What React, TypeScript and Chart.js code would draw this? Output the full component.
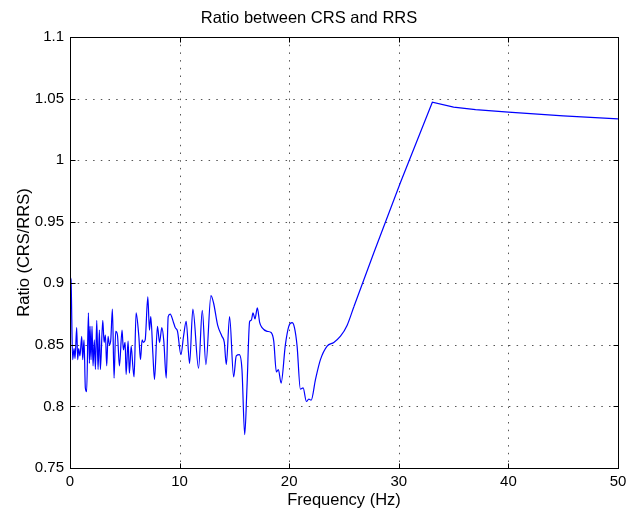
import React, { useEffect, useRef } from "react";
import { Chart, registerables } from "chart.js";

Chart.register(...registerables);

const chartTitle = "Ratio between CRS and RRS";
const xAxisTitle = "Frequency (Hz)";
const yAxisTitle = "Ratio (CRS/RRS)";

const frequencyHz = [
  0.0, 0.09, 0.24, 0.37, 0.46, 0.61, 0.7, 0.79, 0.91, 1.07, 1.16, 1.28, 1.4, 1.52, 1.68, 1.77, 1.83, 1.92,
  2.01, 2.1, 2.22, 2.32, 2.44, 2.56, 2.68, 2.77, 2.99, 3.11, 3.23, 3.35, 3.47, 3.6, 3.72, 3.87, 4.02, 4.17,
  4.33, 4.51, 4.75, 4.87, 5.03, 5.12, 5.3, 5.42, 5.58, 5.73, 5.85, 6.03, 6.28, 6.43, 6.58, 6.7, 6.86, 7.1,
  7.25, 7.37, 7.56, 7.71, 7.98, 8.17, 8.38, 8.56, 8.78, 8.96, 9.14, 9.45, 9.6, 9.81, 10.12, 10.36, 10.6,
  10.91, 11.21, 11.73, 12.07, 12.4, 12.86, 13.1, 13.47, 13.86, 14.08, 14.26, 14.56, 14.93, 15.17, 15.45,
  15.69, 15.94, 16.15, 16.39, 16.54, 16.7, 16.88, 17.09, 17.31, 17.52, 17.98, 18.35, 18.59, 18.83, 19.01,
  19.26, 19.65, 19.96, 20.26, 20.48, 20.72, 21.02, 21.27, 21.57, 21.79, 22.0, 22.4, 22.85, 23.46, 24.07,
  24.68, 25.29, 25.9, 27.73, 30.16, 33.06, 35.0, 37.0, 40.0, 45.0, 50.0,
];

const ratioValues = [
  0.905, 0.903, 0.838, 0.847, 0.839, 0.864, 0.838, 0.847, 0.841, 0.857, 0.838, 0.854, 0.815, 0.812, 0.876,
  0.835, 0.865, 0.838, 0.865, 0.833, 0.854, 0.83, 0.87, 0.83, 0.862, 0.83, 0.87, 0.852, 0.858, 0.833, 0.857,
  0.85, 0.854, 0.879, 0.823, 0.861, 0.858, 0.833, 0.862, 0.846, 0.852, 0.826, 0.853, 0.827, 0.849, 0.833,
  0.824, 0.876, 0.857, 0.838, 0.854, 0.852, 0.854, 0.889, 0.862, 0.873, 0.843, 0.822, 0.865, 0.852, 0.864,
  0.853, 0.823, 0.873, 0.875, 0.868, 0.864, 0.861, 0.842, 0.857, 0.869, 0.835, 0.879, 0.831, 0.878, 0.834,
  0.89, 0.884, 0.866, 0.857, 0.852, 0.834, 0.873, 0.824, 0.841, 0.842, 0.83, 0.777, 0.816, 0.869, 0.87,
  0.876, 0.871, 0.88, 0.868, 0.864, 0.861, 0.86, 0.853, 0.828, 0.83, 0.819, 0.85, 0.865, 0.868, 0.864,
  0.849, 0.814, 0.815, 0.804, 0.806, 0.805, 0.822, 0.838, 0.849, 0.852, 0.857, 0.866, 0.881, 0.925, 0.982,
  1.047, 1.043, 1.041, 1.039, 1.036, 1.0335,
];

// frequency where the curved (resonant) part ends and the straight ramp starts
const smoothEndHz = 25.9;

const xTickValues = [0, 10, 20, 30, 40, 50];
const xTickLabels = ["0", "10", "20", "30", "40", "50"];
const yTickValues = [0.75, 0.8, 0.85, 0.9, 0.95, 1, 1.05, 1.1];
const yTickLabels = ["0.75", "0.8", "0.85", "0.9", "0.95", "1", "1.05", "1.1"];

const FONT = "'Liberation Sans', Arial, Helvetica, sans-serif";

const matlabFrame = {
  id: "matlabFrame",
  beforeDatasetsDraw(chart: any) {
    const { ctx, chartArea, scales } = chart;
    const { left, right, top, bottom } = chartArea;
    const xs = scales.x;
    const ys = scales.y;
    ctx.save();
    ctx.strokeStyle = "#555";
    ctx.lineWidth = 1;
    ctx.setLineDash([1.5, 6.2]);
    for (const v of xTickValues) {
      const px = Math.round(xs.getPixelForValue(v)) + 0.5;
      if (px <= left + 2 || px >= right - 2) continue;
      ctx.beginPath();
      ctx.moveTo(px, top);
      ctx.lineTo(px, bottom);
      ctx.stroke();
    }
    for (const v of yTickValues) {
      const py = Math.round(ys.getPixelForValue(v)) + 0.5;
      if (py <= top + 2 || py >= bottom - 2) continue;
      ctx.beginPath();
      ctx.moveTo(left, py);
      ctx.lineTo(right, py);
      ctx.stroke();
    }
    ctx.restore();
  },
  afterDatasetsDraw(chart: any) {
    const { ctx, chartArea, scales } = chart;
    const { left, right, top, bottom } = chartArea;
    const xs = scales.x;
    const ys = scales.y;
    const l = Math.round(left) + 0.5;
    const r = Math.round(right) + 0.5;
    const t = Math.round(top) + 0.5;
    const b = Math.round(bottom) + 0.5;
    const tl = 5;
    ctx.save();
    ctx.strokeStyle = "#000";
    ctx.lineWidth = 1;
    ctx.setLineDash([]);
    ctx.strokeRect(l, t, r - l, b - t);
    ctx.beginPath();
    for (const v of xTickValues) {
      const px = Math.round(xs.getPixelForValue(v)) + 0.5;
      ctx.moveTo(px, b);
      ctx.lineTo(px, b - tl);
      ctx.moveTo(px, t);
      ctx.lineTo(px, t + tl);
    }
    for (const v of yTickValues) {
      const py = Math.round(ys.getPixelForValue(v)) + 0.5;
      ctx.moveTo(l, py);
      ctx.lineTo(l + tl, py);
      ctx.moveTo(r, py);
      ctx.lineTo(r - tl, py);
    }
    ctx.stroke();
    ctx.restore();
  },
};

export default function App() {
  const canvasRef = useRef<HTMLCanvasElement | null>(null);

  useEffect(() => {
    document.body.style.margin = "0";
    const canvas = canvasRef.current;
    if (!canvas) return;
    const points = frequencyHz.map((f, i) => ({ x: f, y: ratioValues[i] }));
    const curved = points.filter((p) => p.x <= smoothEndHz);
    const straight = points.filter((p) => p.x >= smoothEndHz);
    const lineStyle = {
      borderColor: "#0000ff",
      borderWidth: 1.2,
      pointRadius: 0,
      fill: false,
    };
    const chart = new Chart(canvas, {
      type: "line",
      data: {
        datasets: [
          { ...lineStyle, data: curved, cubicInterpolationMode: "monotone" },
          { ...lineStyle, data: straight, tension: 0 },
        ],
      },
      options: {
        animation: false,
        responsive: false,
        maintainAspectRatio: false,
        events: [],
        layout: { padding: { left: 0, right: 9, top: 0, bottom: 0 } },
        plugins: {
          legend: { display: false },
          tooltip: { enabled: false },
          title: {
            display: true,
            text: chartTitle,
            color: "#000",
            font: { family: FONT, size: 16.5, weight: "normal" },
            padding: { top: 8.6, bottom: 8.6 },
          },
        },
        scales: {
          x: {
            type: "linear",
            min: 0,
            max: 50,
            grid: { display: false, drawTicks: false },
            border: { display: false },
            afterBuildTicks: (s: any) => {
              s.ticks = xTickValues.map((value) => ({ value }));
            },
            afterFit: (s: any) => {
              s.height = 44;
              s.paddingLeft = 0;
              s.paddingRight = 0;
            },
            ticks: {
              color: "#000",
              padding: 5,
              maxRotation: 0,
              font: { family: FONT, size: 15 },
              callback: (_v: any, i: number) => xTickLabels[i],
            },
            title: {
              display: true,
              text: xAxisTitle,
              color: "#000",
              font: { family: FONT, size: 16.5 },
              padding: { top: 0, bottom: 1.5 },
            },
          },
          y: {
            type: "linear",
            min: 0.75,
            max: 1.1,
            grid: { display: false, drawTicks: false },
            border: { display: false },
            afterBuildTicks: (s: any) => {
              s.ticks = yTickValues.map((value) => ({ value }));
            },
            afterFit: (s: any) => {
              s.width = 70;
              s.paddingTop = 0;
              s.paddingBottom = 0;
            },
            ticks: {
              color: "#000",
              padding: 6,
              font: { family: FONT, size: 15 },
              callback: (_v: any, i: number) => yTickLabels[i],
            },
            title: {
              display: true,
              text: yAxisTitle,
              color: "#000",
              font: { family: FONT, size: 16.5 },
              padding: { top: 14.5, bottom: 0 },
            },
          },
        },
      },
      plugins: [matlabFrame],
    } as any);
    return () => chart.destroy();
  }, []);

  return (
    <div style={{ width: 627, height: 512, background: "#fff" }}>
      <canvas ref={canvasRef} width={627} height={512} />
    </div>
  );
}
